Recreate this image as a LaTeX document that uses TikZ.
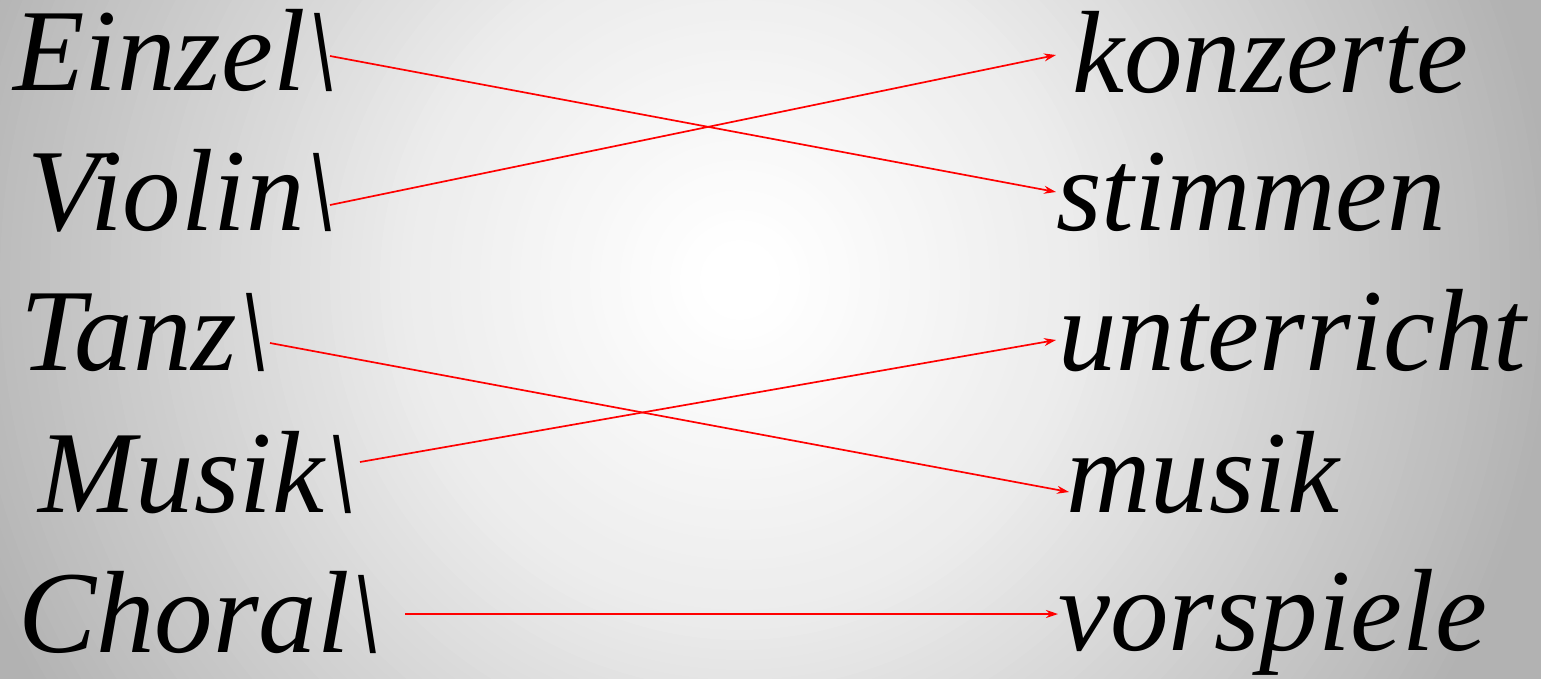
\documentclass[tikz,border=0pt]{standalone}
\usepackage{fontspec}
\setmainfont{Liberation Serif}
\newfontfamily\wordfont{Liberation Serif Italic}
\usetikzlibrary{arrows.meta}
\tikzset{
  word/.style={anchor=base west, inner sep=0pt, font=\fontsize{117}{120}\selectfont\wordfont},
  link/.style={draw=red, line width=1.7pt, -{Stealth[length=12pt,width=8pt]}}
}
\begin{document}
\begin{tikzpicture}[x=1pt,y=-1pt]
\useasboundingbox (0,0) rectangle (1541,678);
\begin{scope}
\clip (0,0) rectangle (1541,678);
\foreach \r in {1000,990,...,0} {
  \pgfmathsetmacro\p{\r<40 ? 0 : (\r<340 ? 7.5*(\r-40)/300 : (\r<740 ? 7.5+18.5*(\r-340)/400 : (\r<815 ? 26+4*(\r-740)/75 : 30)))}
  \fill[black!\p!white] (740,280) circle[radius=\r];
}
\end{scope}
% left words
\node[word] (l1) at (13,90) {Einzel\textbackslash};
\node[word] (l2) at (27,230) {Violin\textbackslash};
\node[word] (l3) at (20,370) {Tanz\textbackslash};
\node[word] (l4) at (38,512) {Musik\textbackslash};
\node[word] (l5) at (18,652) {Choral\textbackslash};
% right words
\node[word] (r1) at (1072,92) {konzerte};
\node[word] (r2) at (1056,230) {stimmen};
\node[word] (r3) at (1058,370) {unterricht};
\node[word] (r4) at (1066,512) {musik};
\node[word] (r5) at (1058,650) {vorspiele};
% connector end points
\coordinate (s1) at (330,56);
\coordinate (s2) at (330,205);
\coordinate (s3) at (270,343);
\coordinate (s4) at (360,462);
\coordinate (s5) at (405,614);
\coordinate (e1) at (1056,192);
\coordinate (e2) at (1056,55);
\coordinate (e3) at (1069,492);
\coordinate (e4) at (1056,340);
\coordinate (e5) at (1058,614);
\draw[link] (s1) -- (e1);
\draw[link] (s2) -- (e2);
\draw[link] (s3) -- (e3);
\draw[link] (s4) -- (e4);
\draw[link] (s5) -- (e5);
\end{tikzpicture}
\end{document}
